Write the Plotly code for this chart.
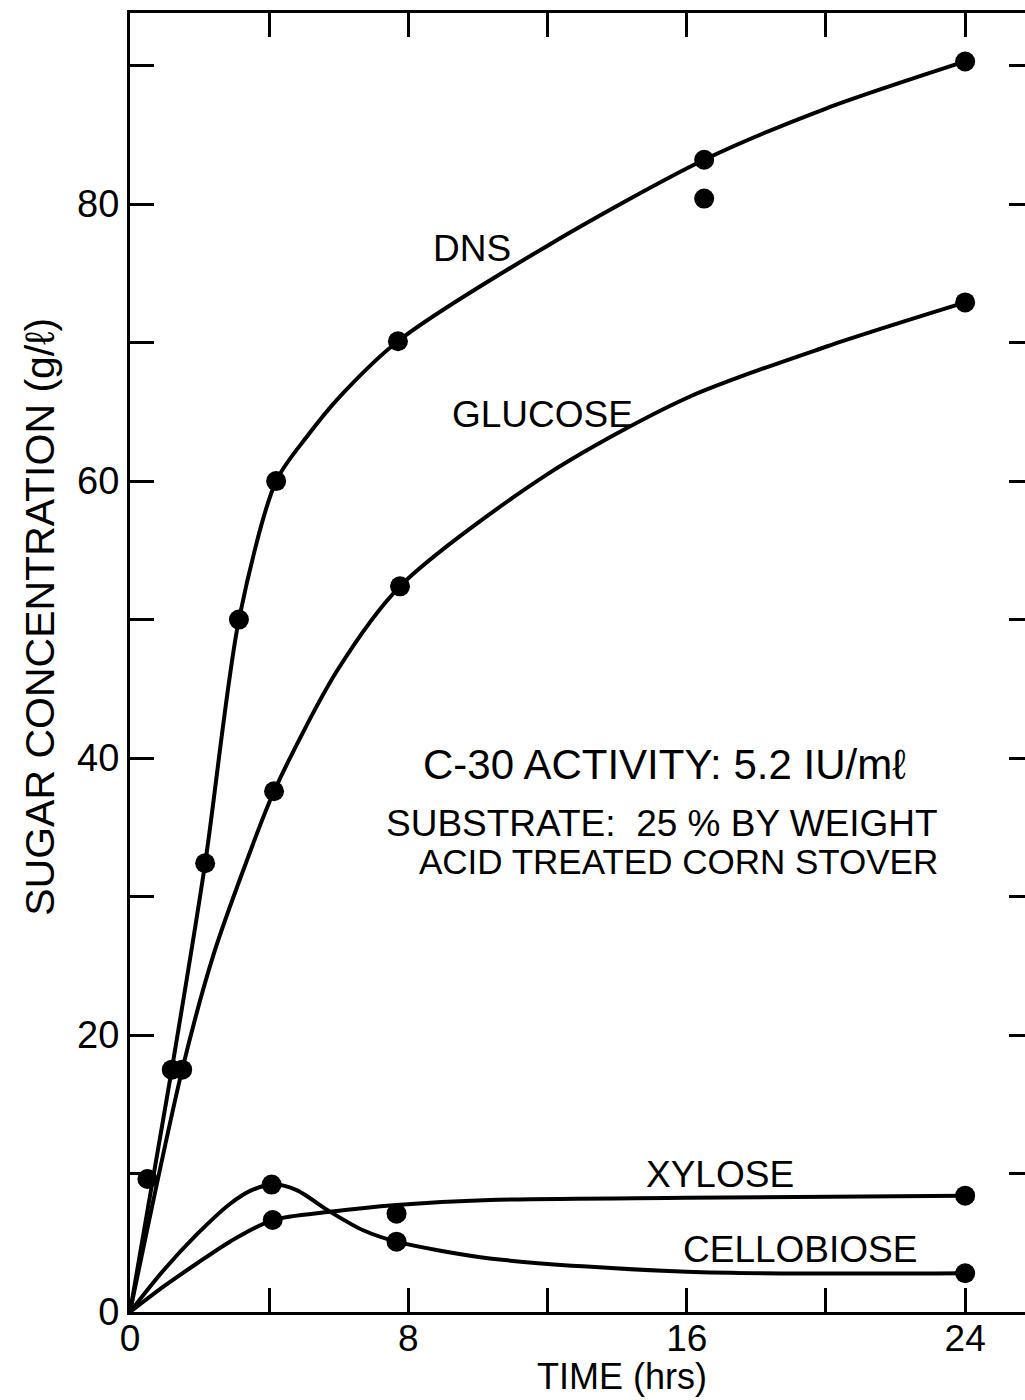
import plotly.graph_objects as go

# ---- measured points (time in hrs, sugar g/l) ----
dns_t = [0.5, 1.2, 2.16, 3.13, 4.2, 7.7, 16.5, 16.5, 24.0]
dns_v = [9.6, 17.5, 32.4, 50.0, 60.0, 70.1, 83.2, 80.4, 90.3]
glu_t = [1.5, 4.14, 7.76, 24.0]
glu_v = [17.5, 37.6, 52.4, 72.9]
xyl_t = [4.1, 7.66, 24.0]
xyl_v = [6.64, 7.1, 8.4]
cel_t = [4.07, 7.66, 24.0]
cel_v = [9.2, 5.08, 2.8]

# ---- hand-drawn curves ----
dns_curve_t = [0, 1.2, 2.16, 3.13, 4.2, 5.08, 6.03, 7.7, 12.0, 16.5, 20.0, 24.0]
dns_curve_v = [0, 17.5, 32.4, 50.0, 60.0, 63.2, 66.1, 70.1, 77.0, 83.2, 86.9, 90.3]
glu_curve_t = [0, 1.5, 2.4, 3.3, 4.14, 5.95, 7.76, 12.0, 16.0, 20.0, 24.0]
glu_curve_v = [0, 17.5, 25.8, 32.2, 37.6, 46.3, 52.4, 60.5, 66.0, 69.7, 72.9]
xyl_curve_t = [0, 0.96, 1.92, 2.87, 4.1, 5.75, 7.66, 10.34, 16.0, 24.0]
xyl_curve_v = [0, 1.83, 3.5, 5.08, 6.64, 7.24, 7.73, 8.09, 8.25, 8.4]
cel_curve_t = [0, 0.96, 1.92, 2.87, 3.5, 4.15, 4.79, 5.75, 6.7, 7.66, 10.34, 16.0, 24.0]
cel_curve_v = [0, 3.0, 5.6, 7.8, 8.8, 9.2, 8.8, 7.24, 5.9, 5.08, 3.87, 2.9, 2.8]

x_tickvals = [0, 4, 8, 12, 16, 20, 24]
x_ticktext = ["0", "", "8", "", "16", "", "24"]
y_tickvals = [0, 10, 20, 30, 40, 50, 60, 70, 80, 90]
y_ticktext = ["0", "", "20", "", "40", "", "60", "", "80", ""]

# (text, x, y, anchor, font size)
labels = [
    ("DNS", 9.83, 76.8, "center", 37),
    ("GLUCOSE", 11.84, 64.8, "center", 37),
    ("XYLOSE", 16.95, 9.9, "center", 37),
    ("CELLOBIOSE", 19.25, 4.5, "center", 37),
    ("C-30 ACTIVITY: 5.2 IU/mℓ", 15.37, 39.5, "center", 42),
    ("SUBSTRATE:  25 % BY WEIGHT", 23.28, 35.3, "right", 37),
    ("ACID TREATED CORN STOVER", 23.28, 32.5, "right", 35),
]

FONT = "Liberation Sans"
INK = "black"

fig = go.Figure()
for ct, cv in [(dns_curve_t, dns_curve_v), (glu_curve_t, glu_curve_v),
               (xyl_curve_t, xyl_curve_v), (cel_curve_t, cel_curve_v)]:
    fig.add_trace(go.Scatter(x=ct, y=cv, mode="lines",
                             line=dict(color=INK, width=4, shape="spline", smoothing=0.8),
                             showlegend=False, hoverinfo="skip"))
for pt, pv in [(dns_t, dns_v), (glu_t, glu_v), (xyl_t, xyl_v), (cel_t, cel_v)]:
    fig.add_trace(go.Scatter(x=pt, y=pv, mode="markers",
                             marker=dict(color=INK, size=20, line=dict(width=0)),
                             showlegend=False))
# invisible trace to carry right-side tick axis
fig.add_trace(go.Scatter(x=[0], y=[0], yaxis="y2", mode="markers",
                         marker=dict(opacity=0), showlegend=False, hoverinfo="skip"))

for txt, x, y, anc, sz in labels:
    fig.add_annotation(x=x, y=y, text=txt, showarrow=False, xanchor=anc, yanchor="middle",
                       font=dict(family=FONT, size=sz, color=INK))

# axis titles as annotations (placed like the original)
fig.add_annotation(x=14.14, xref="x", y=-0.0500, yref="paper", text="TIME (hrs)",
                   showarrow=False, xanchor="center", yanchor="middle",
                   font=dict(family=FONT, size=36, color=INK))
fig.add_annotation(x=-0.1006, xref="paper", y=50.2, yref="y", text="SUGAR CONCENTRATION (g/ℓ)",
                   textangle=-90, showarrow=False, xanchor="center", yanchor="middle",
                   font=dict(family=FONT, size=41, color=INK))

fig.update_layout(
    width=1025, height=1400,
    margin=dict(l=130, r=0, t=13, b=88),
    paper_bgcolor="white", plot_bgcolor="white",
    font=dict(family=FONT, color=INK),
    xaxis=dict(range=[0, 25.72], tickmode="array", tickvals=x_tickvals, ticktext=x_ticktext,
               ticks="inside", ticklen=24, tickwidth=2.5, tickcolor=INK,
               showline=True, linewidth=3, linecolor=INK, mirror="ticks",
               showgrid=False, zeroline=False, ticklabelstandoff=-8,
               tickfont=dict(family=FONT, size=37, color=INK)),
    yaxis=dict(range=[0, 93.8], tickmode="array", tickvals=y_tickvals, ticktext=y_ticktext,
               ticks="inside", ticklen=24, tickwidth=2.5, tickcolor=INK,
               showline=True, linewidth=3, linecolor=INK, mirror=False,
               showgrid=False, zeroline=False,
               tickfont=dict(family=FONT, size=38, color=INK)),
    yaxis2=dict(range=[0, 93.8], overlaying="y", side="right", tickmode="array",
                tickvals=y_tickvals[1:], ticktext=[""] * 9, ticks="inside", ticklen=16,
                tickwidth=2.5, tickcolor=INK, showline=False, showgrid=False, zeroline=False),
)

fig.write_html("out.html")
